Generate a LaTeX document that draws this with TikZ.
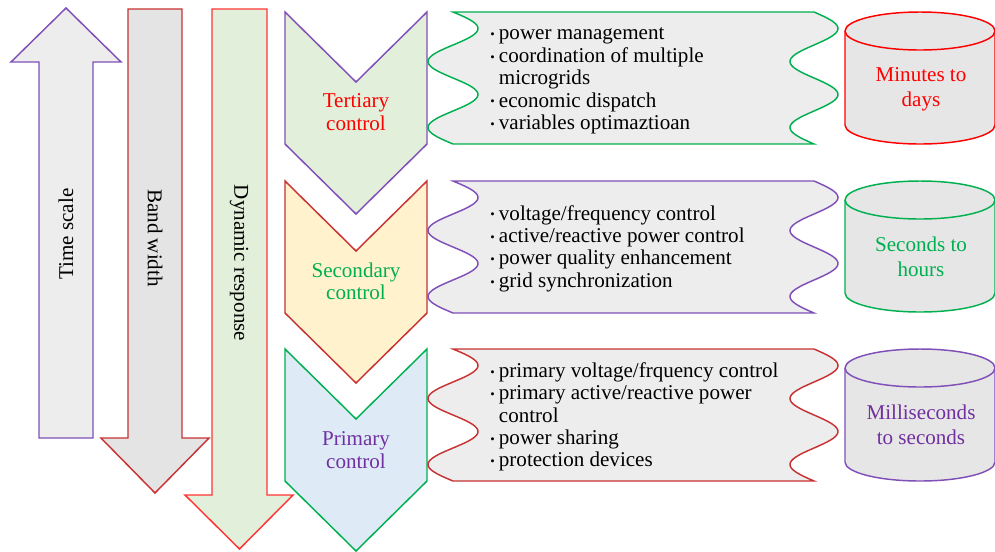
\documentclass[tikz,border=0pt]{standalone}
\usepackage{fontspec}
\setmainfont{Liberation Serif}
\definecolor{cpurple}{HTML}{7030A0}
\definecolor{lpurple}{HTML}{8050B8}
\definecolor{cgreen}{HTML}{00B050}
\definecolor{cred}{HTML}{FF0000}
\definecolor{lred}{HTML}{FF3535}
\definecolor{dred}{HTML}{C83232}
\definecolor{lgreen}{HTML}{E2EFDA}
\definecolor{lyellow}{HTML}{FFF2CC}
\definecolor{lblue}{HTML}{DEEBF7}
\definecolor{boxgray}{HTML}{EDEDED}
\definecolor{cylgray}{HTML}{E6E6E6}
\definecolor{arrgrayA}{HTML}{EDEDED}
\definecolor{arrgrayB}{HTML}{E4E4E4}
\newcommand\wavybox[3]{%
  \path[draw=#3, fill=boxgray, outline]
    plot[domain=#1:#2, samples=90, variable=\t] ({453+25*sin((\t-#1)/(#2-#1)*720)}, \t)
    -- plot[domain=#2:#1, samples=90, variable=\t] ({814+24*sin((\t-#1)/(#2-#1)*720)}, \t)
    -- cycle;}
\newcommand\cylshape[3]{% top y, bottom y, colour
  \path[draw=#3, fill=cylgray, outline]
    (845,#1+19) -- (845,#2-19) arc[start angle=180, end angle=360, x radius=56.25pt, y radius=14.25pt]
    -- (995,#1+19) arc[start angle=0, end angle=180, x radius=56.25pt, y radius=14.25pt] -- cycle;
  \draw[#3, outline] (845,#1+19) arc[start angle=180, end angle=360, x radius=56.25pt, y radius=14.25pt];}
\newcommand\chevronshape[3]{% top y, fill, draw
  \path[draw=#3, fill=#2, outline, line join=miter]
    (285,#1) -- (356,#1+70) -- (427,#1) -- (427,#1+132) -- (356,#1+202) -- (285,#1+132) -- cycle;}
\newcommand\bul{\makebox[6.5pt][l]{\fontsize{9.5}{9.5}\selectfont\raisebox{0.2ex}{\textbullet}}}
\newcommand\cont{\hspace*{6.5pt}}
\tikzset{
  outline/.style={line width=1.1pt},
  lbl/.style={font=\fontsize{15.8}{16.8}\selectfont, inner sep=0pt, align=center},
  cyl/.style={font=\fontsize{15.8}{19}\selectfont, inner sep=0pt, align=center},
  list/.style={font=\fontsize{15.8}{16.8}\selectfont, inner sep=0pt, align=left, anchor=west, text=black},
}
\begin{document}
\begin{tikzpicture}[x=0.75pt, y=-0.75pt]
\path[fill=white, use as bounding box] (0,0) rectangle (995,551);
% big arrows
\path[draw=lpurple, fill=arrgrayA, outline, line join=miter]
  (66,8) -- (121,62) -- (93,62) -- (93,438) -- (39,438) -- (39,62) -- (11,62) -- cycle;
\path[draw=dred, fill=arrgrayB, outline, line join=miter]
  (128,9) -- (182,9) -- (182,438) -- (209,438) -- (155,493) -- (101,438) -- (128,438) -- cycle;
\path[draw=lred, fill=lgreen, outline, line join=miter]
  (212,9) -- (267,9) -- (267,495) -- (293,495) -- (239.5,549) -- (185,495) -- (212,495) -- cycle;
\node[lbl, rotate=90] (ts) at (66,234) {Time scale};
\node[lbl, rotate=-90] (bw) at (155,238) {Band width};
\node[lbl, rotate=-90] (dr) at (239,263) {Dynamic response};
% chevrons
\chevronshape{12}{lgreen}{lpurple}
\chevronshape{181}{lyellow}{dred}
\chevronshape{349}{lblue}{cgreen}
\node[lbl, text=cred] (tc) at (356,112) {Tertiary\\control};
\node[lbl, text=cgreen] (sc) at (356,281.5) {Secondary\\control};
\node[lbl, text=cpurple] (pc) at (356,450) {Primary\\control};
% wavy boxes
\wavybox{12}{144}{cgreen}
\wavybox{181}{313}{lpurple}
\wavybox{349}{481}{dred}
\node[list] (l1) at (490,81) {\bul power management\\ \bul coordination of multiple\\ \cont microgrids\\ \bul economic dispatch\\ \bul variables optimaztioan};
\node[list] (l2) at (490,248.5) {\bul voltage/frequency control\\ \bul active/reactive power control\\ \bul power quality enhancement\\ \bul grid synchronization};
\node[list] (l3) at (490,417) {\bul primary voltage/frquency control\\ \bul primary active/reactive power\\ \cont control\\ \bul power sharing\\ \bul protection devices};
% cylinders
\cylshape{12}{144}{cred}
\cylshape{181}{312}{cgreen}
\cylshape{349}{481}{lpurple}
\node[cyl, text=cred] (c1) at (921,89.5) {Minutes to\\days};
\node[cyl, text=cgreen] (c2) at (921,256.5) {Seconds to\\hours};
\node[cyl, text=cpurple] (c3) at (921,425) {Milliseconds\\to seconds};
\end{tikzpicture}
\end{document}
